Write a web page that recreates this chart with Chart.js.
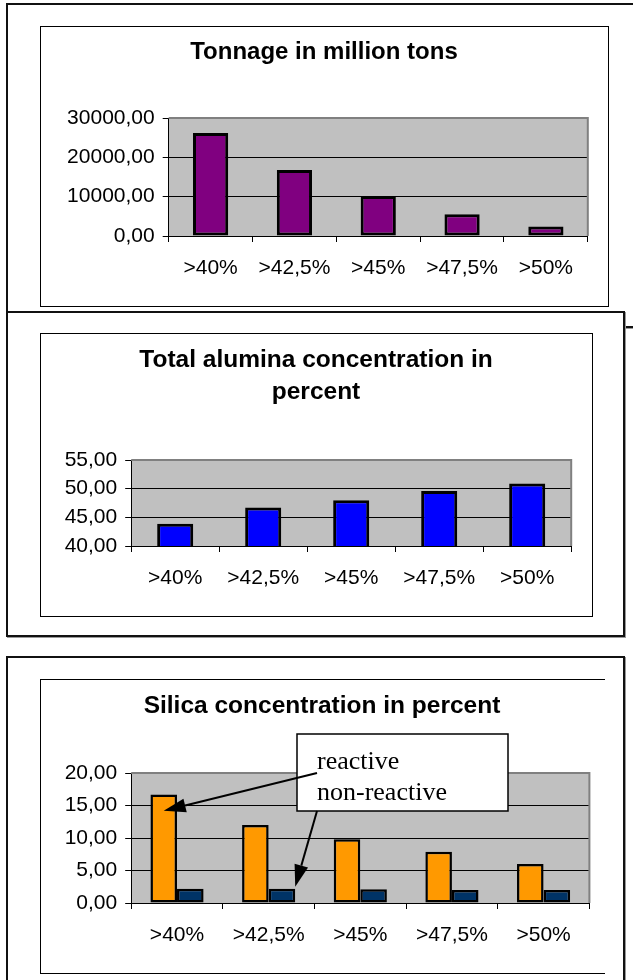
<!DOCTYPE html>
<html>
<head>
<meta charset="utf-8">
<script src="https://cdn.jsdelivr.net/npm/chart.js@4.4.1/dist/chart.umd.min.js"></script>
<style>
  body { margin: 0; background: #fff; width: 633px; height: 980px; overflow: hidden; position: relative; }
  .frame { position: absolute; box-sizing: border-box; border: 2px solid #111; background: #fff; box-shadow: 1px 1px 0 #999; }
  .inner { position: absolute; box-sizing: border-box; border: 1px solid #000; }
  canvas { position: absolute; }
</style>
</head>
<body>
<div class="frame" style="left:6px;top:3px;width:640px;height:325px"></div>
<div class="inner" style="left:40px;top:26px;width:569px;height:281px"></div>
<canvas id="tonnage" width="568" height="280" style="left:40px;top:26px"></canvas>

<div class="frame" style="left:6px;top:311px;width:619px;height:326px"></div>
<div class="inner" style="left:40px;top:333px;width:553px;height:284px"></div>
<canvas id="alumina" width="552" height="283" style="left:40px;top:333px"></canvas>

<div class="frame" style="left:6px;top:656px;width:619px;height:340px"></div>
<div class="inner" style="left:40px;top:679px;width:565px;height:295px;border-right:none"></div>
<canvas id="silica" width="564" height="294" style="left:40px;top:679px"></canvas>

<script>
const categories = [">40%", ">42,5%", ">45%", ">47,5%", ">50%"];

const tonnage = [26200, 16800, 10200, 5500, 2400];
const tonnageTicks = [0, 10000, 20000, 30000];

const alumina = [43.9, 46.7, 48.0, 49.6, 50.9];
const aluminaTicks = [40, 45, 50, 55];

const silicaReactive = [16.7, 12.0, 9.8, 7.9, 6.0];
const silicaNonReactive = [2.2, 2.2, 2.1, 2.0, 2.0];
const silicaTicks = [0, 5, 10, 15, 20];

const FONT = '"Liberation Sans", Arial, sans-serif';

// gray plot area like the old spreadsheet charts
const plotBg = {
  id: "plotBg",
  beforeDraw(chart) {
    const a = chart.chartArea;
    const c = chart.ctx;
    c.save();
    c.fillStyle = "#c0c0c0";
    c.fillRect(a.left, a.top, a.right - a.left, a.bottom - a.top);
    c.restore();
  },
  beforeDatasetsDraw(chart) {
    const a = chart.chartArea;
    const c = chart.ctx;
    c.save();
    c.strokeStyle = "#808080";
    c.lineWidth = 2;
    c.beginPath();
    c.moveTo(a.left, a.top);
    c.lineTo(a.right, a.top);
    c.lineTo(a.right, a.bottom);
    c.stroke();
    c.restore();
  },
};

function comma(v) {
  return Number(v).toFixed(2).replace(".", ",");
}

function makeChart(id, o) {
  return new Chart(document.getElementById(id), {
    type: "bar",
    data: { labels: categories, datasets: o.datasets },
    options: {
      responsive: false,
      animation: false,
      devicePixelRatio: 1,
      // same padding both sides so the title stays centred in the frame
      layout: { padding: { left: o.pad, right: o.pad, top: 0, bottom: 0 } },
      plugins: {
        legend: { display: false },
        tooltip: { enabled: false },
        title: {
          display: true,
          text: o.title,
          color: "#000",
          font: { family: FONT, size: o.titleSize, weight: "bold", lineHeight: o.titleLine },
          padding: { top: o.titleTop, bottom: o.titleBottom },
        },
      },
      scales: {
        x: {
          grid: { offset: true, drawOnChartArea: false, drawTicks: true, tickLength: 6, color: "#000" },
          border: { color: "#000", width: 1 },
          ticks: { color: "#000", font: { family: FONT, size: 21 }, padding: 14, maxRotation: 0 },
          afterFit: (s) => { s.height = 70; },
        },
        y: {
          min: o.ticks[0],
          max: o.ticks[o.ticks.length - 1],
          afterBuildTicks: (s) => { s.ticks = o.ticks.map((v) => ({ value: v })); },
          grid: { color: "#000", tickColor: "#000", tickLength: 6, lineWidth: 1 },
          border: { color: "#000", width: 1 },
          ticks: { color: "#000", font: { family: FONT, size: 21 }, padding: 8, callback: comma },
          afterFit: (s) => { s.width = o.axisWidth; },
        },
      },
    },
    plugins: o.plugins ? [plotBg].concat(o.plugins) : [plotBg],
  });
}

function bars(data, color, pct, bw) {
  return {
    data: data,
    backgroundColor: color,
    borderColor: "#000",
    borderWidth: bw,
    borderSkipped: false,
    categoryPercentage: pct[0],
    barPercentage: pct[1],
  };
}

makeChart("tonnage", {
  title: "Tonnage in million tons",
  titleSize: 24, titleLine: 1.2, titleTop: 11.6, titleBottom: 51.6,
  pad: 20.2, axisWidth: 108.5,
  ticks: tonnageTicks,
  datasets: [bars(tonnage, "#800080", [1, 0.42], 3)],
});

makeChart("alumina", {
  title: ["Total alumina concentration in", "percent"],
  titleSize: 24.5, titleLine: 32 / 24.5, titleTop: 11, titleBottom: 52,
  pad: 20.8, axisWidth: 70.4,
  ticks: aluminaTicks,
  datasets: [bars(alumina, "#0000ff", [1, 0.41], 3)],
});

// callout box with two arrows pointing at the bars
const callout = {
  id: "callout",
  afterDraw(chart) {
    const c = chart.ctx;
    const y = chart.scales.y;
    const box = { x: 257, y: 55, w: 211, h: 77 };
    c.save();
    c.fillStyle = "#fff";
    c.fillRect(box.x, box.y, box.w, box.h);
    c.strokeStyle = "#000";
    c.lineWidth = 1.5;
    c.strokeRect(box.x, box.y, box.w, box.h);

    c.fillStyle = "#000";
    c.font = '26px "Liberation Serif", "Times New Roman", serif';
    c.textBaseline = "middle";
    c.fillText("reactive", 277, 83);
    c.fillText("non-reactive", 277, 114);

    const reactiveBar = chart.getDatasetMeta(0).data[0];
    const nonBar = chart.getDatasetMeta(1).data[1];
    arrow(c, 277, 94, reactiveBar.x, y.getPixelForValue(14.2));
    arrow(c, 277, 132, nonBar.x + nonBar.width / 2, y.getPixelForValue(2.5));
    c.restore();
  },
};

function arrow(c, x1, y1, x2, y2) {
  const ang = Math.atan2(y2 - y1, x2 - x1);
  const len = 22, half = 7;
  const bx = x2 - len * Math.cos(ang);
  const by = y2 - len * Math.sin(ang);
  c.strokeStyle = "#000";
  c.lineWidth = 2;
  c.beginPath();
  c.moveTo(x1, y1);
  c.lineTo(bx, by);
  c.stroke();
  c.fillStyle = "#000";
  c.beginPath();
  c.moveTo(x2, y2);
  c.lineTo(bx + half * Math.sin(ang), by - half * Math.cos(ang));
  c.lineTo(bx - half * Math.sin(ang), by + half * Math.cos(ang));
  c.closePath();
  c.fill();
}

makeChart("silica", {
  title: "Silica concentration in percent",
  titleSize: 24.5, titleLine: 1.2, titleTop: 12.3, titleBottom: 52.3,
  pad: 14.6, axisWidth: 76.6,
  ticks: silicaTicks,
  datasets: [
    bars(silicaReactive, "#ff9900", [0.58, 1], 2.5),
    bars(silicaNonReactive, "#003366", [0.58, 1], 2.5),
  ],
  plugins: [callout],
});
</script>
</body>
</html>
